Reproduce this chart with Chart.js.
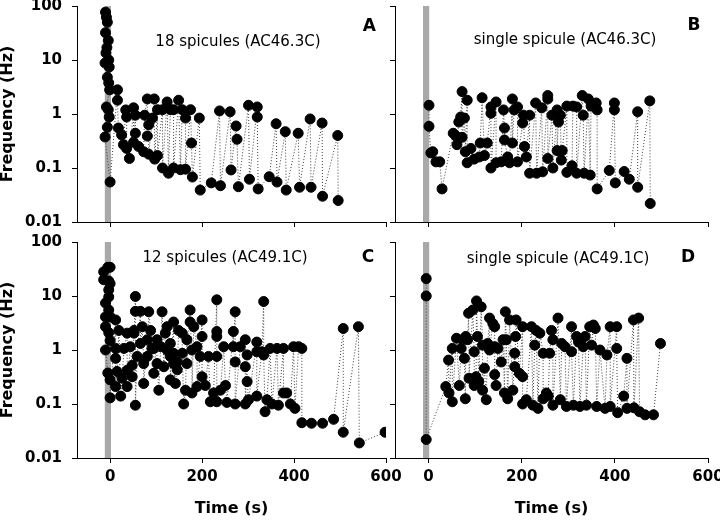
<!DOCTYPE html>
<html>
<head>
<meta charset="utf-8">
<script src="https://cdn.jsdelivr.net/npm/chart.js@4.4.0/dist/chart.umd.min.js"></script>
<style>
  html, body { margin: 0; padding: 0; background: #fff; }
  #wrap { position: relative; width: 720px; height: 520px; overflow: hidden; }
  canvas { position: absolute; }
</style>
</head>
<body>
<div id="wrap">
  <canvas id="panelA" width="410" height="232" style="left:0;top:0"></canvas>
  <canvas id="panelC" width="410" height="288" style="left:0;top:232px"></canvas>
  <canvas id="panelB" width="335" height="232" style="left:385px;top:0"></canvas>
  <canvas id="panelD" width="335" height="288" style="left:385px;top:232px"></canvas>
</div>
<script>
// axis ticks
const xTicks = [0, 200, 400, 600];
const yTicks = [0.01, 0.1, 1, 10, 100];
const yTickLabels = ["0.01", "0.1", "1", "10", "100"];
// stimulation window (s), grey bar
const stimWindow = [-12, 2];

// A: 18 spicules (AC46.3C)
const timeA = [-10, -8, -6, -10, -4, -7, -9, -3, -11, -2, -6, -3, -1, -8, -4, -2, -6, -11, 0,
  16, 16, 18, 25, 29, 34, 36, 36, 42, 51, 51, 55, 55, 62, 73, 75, 81, 81, 84, 84,
  92, 96, 97, 103, 103, 114, 114, 124, 127, 131, 138, 138, 149, 153, 157, 164, 164, 175, 177, 179,
  194, 196, 220, 238, 240, 261, 263, 274, 276, 279, 301, 303, 320, 320, 322, 346, 361, 363, 381, 383,
  409, 412, 435, 437, 461, 462, 495, 496];
const freqA = [77, 62, 50, 32, 23, 17, 13.5, 10, 8.8, 7.4, 4.8, 3.75, 2.8, 1.35, 1.2, 0.88, 0.57, 0.375, 0.055,
  2.8, 1.8, 0.55, 0.41, 0.27, 1.19, 0.88, 0.23, 0.15, 1.3, 0.3, 0.95, 0.44, 0.25, 0.2, 0.95, 1.9, 0.39, 0.63, 0.18,
  0.84, 1.9, 0.146, 1.2, 0.17, 1.2, 0.1, 1.67, 0.08, 1.2, 1.2, 0.1, 1.8, 0.093, 1.2, 0.84, 0.095, 1.2, 0.29, 0.068,
  0.84, 0.039, 0.053, 1.14, 0.047, 1.1, 0.092, 0.6, 0.34, 0.045, 1.45, 0.062, 1.35, 0.88, 0.041, 0.069, 0.66, 0.055, 0.47, 0.039,
  0.44, 0.044, 0.81, 0.044, 0.68, 0.030, 0.4, 0.025];

// B: single spicule (AC46.3C)
const timeB = [1, 1, 5, 9, 16, 24, 29, 53, 59, 61, 65, 69, 72, 72, 77, 79, 83, 83, 91, 98,
  109, 111, 115, 120, 126, 134, 134, 134, 145, 145, 156, 161, 163, 163, 170, 174, 180, 180, 184, 191,
  191, 202, 204, 206, 210, 217, 217, 230, 232, 243, 245, 256, 256, 256, 265, 267, 276, 276, 279, 283,
  285, 287, 297, 297, 308, 310, 318, 318, 330, 332, 334, 343, 347, 349, 360, 362, 362, 388, 399, 399,
  401, 420, 431, 449, 449, 475, 476];
const freqB = [1.45, 0.59, 0.19, 0.2, 0.13, 0.13, 0.041, 0.44, 0.39, 0.27, 0.71, 0.88, 2.6, 0.37, 0.84, 0.2, 1.8, 0.125, 0.23, 0.146,
  0.16, 0.29, 2.0, 0.17, 0.29, 1.35, 1.03, 0.1, 1.67, 0.125, 0.13, 1.19, 0.55, 0.33, 0.16, 0.125, 1.9, 0.29, 1.19, 1.35,
  0.13, 0.68, 0.95, 0.25, 0.16, 0.95, 0.08, 1.6, 0.08, 1.3, 0.085, 2.2, 1.9, 0.15, 0.95, 0.1, 1.19, 0.21, 0.71, 0.95,
  0.14, 0.21, 1.4, 0.083, 0.11, 1.4, 1.35, 0.08, 2.2, 0.95, 0.08, 1.9, 0.074, 1.4, 1.6, 1.19, 0.041, 0.09, 1.6, 1.19,
  0.053, 0.086, 0.062, 1.1, 0.044, 1.75, 0.022];

// C: 12 spicules (AC49.1C)
const timeC = [-14, -5, 0, -14, -3, 0, -3, -3, -10, -3, -10, 0, -10, -3, 0, -10, -5, 0, 0,
  12, 12, 12, 12, 15, 19, 23, 26, 30, 37, 37, 37, 44, 48, 48, 52, 52, 55, 55, 55,
  59, 66, 66, 70, 73, 73, 81, 81, 84, 88, 91, 95, 95, 102, 102, 106, 110, 113, 117, 120,
  124, 124, 131, 131, 131, 138, 138, 138, 142, 146, 146, 149, 157, 157, 160, 164, 167, 167, 174, 174,
  178, 178, 182, 189, 189, 196, 200, 200, 200, 207, 214, 218, 225, 232, 232, 232, 232, 232, 240, 247,
  251, 254, 268, 268, 272, 272, 272, 283, 294, 294, 294, 298, 298, 301, 319, 319, 319, 330, 334, 334,
  337, 341, 348, 352, 363, 366, 377, 377, 384, 392, 399, 402, 410, 417, 417, 438, 462, 486, 507, 507,
  540, 542, 598];
const freqC = [28, 34, 34, 20, 19, 17, 13, 9.6, 7.4, 5.5, 4.1, 4.1, 2.7, 2.1, 1.5, 1.0, 0.375, 0.28, 0.13,
  3.6, 1.07, 0.7, 0.21, 0.4, 2.3, 0.14, 0.3, 1.07, 2.05, 0.42, 0.21, 1.15, 0.52, 0.32, 2.3, 2.05, 9.8, 5.2, 0.095,
  0.76, 5.2, 1.32, 2.7, 0.56, 0.24, 1.55, 0.76, 5.1, 2.3, 1.07, 1.07, 0.37, 1.55, 0.56, 0.18, 1.15, 5.1, 0.49, 2.05,
  2.7, 1.0, 1.32, 0.76, 0.28, 3.3, 0.87, 0.56, 0.24, 0.6, 0.43, 2.3, 2.05, 0.87, 0.10, 0.18, 1.55, 0.56, 5.5, 3.3,
  1.0, 0.16, 2.7, 1.15, 0.21, 0.76, 3.6, 1.78, 0.32, 0.22, 0.76, 0.11, 0.16, 8.5, 2.2, 1.78, 0.76, 0.11, 0.18, 1.15,
  0.22, 0.107, 2.2, 1.15, 5.1, 0.6, 0.1, 1.15, 1.55, 0.49, 0.1, 0.81, 0.26, 0.12, 1.4, 0.93, 0.14, 0.93, 7.9, 0.81,
  0.072, 0.12, 1.07, 0.10, 1.07, 0.095, 1.07, 0.16, 0.16, 0.1, 1.15, 0.083, 1.15, 1.07, 0.045, 0.044, 0.044, 0.052, 2.5, 0.03,
  2.7, 0.019, 0.03];

// D: single spicule (AC49.1C)
const timeD = [-5, -5, -5, 37, 43, 44, 51, 51, 60, 66, 70, 73, 77, 79, 80, 84, 86, 87, 95, 98,
  98, 102, 103, 105, 108, 113, 116, 116, 120, 124, 127, 131, 131, 138, 142, 142, 142, 145, 149, 156,
  160, 163, 165, 167, 170, 174, 181, 185, 185, 187, 188, 195, 202, 202, 202, 210, 221, 224, 228, 231,
  235, 239, 246, 246, 253, 257, 260, 264, 267, 267, 278, 283, 286, 293, 296, 307, 307, 311, 318, 322,
  325, 332, 336, 339, 346, 350, 354, 358, 361, 368, 379, 383, 390, 390, 404, 404, 406, 419, 426, 426,
  440, 441, 451, 453, 465, 483, 498];
const freqD = [21, 10, 0.022, 0.21, 0.65, 0.16, 1.07, 0.11, 1.65, 0.22, 1.07, 1.55, 0.7, 0.125, 1.78, 1.55, 4.8, 0.3, 5.5, 0.93,
  0.22, 0.32, 8.1, 1.78, 0.26, 6.3, 1.23, 0.18, 0.46, 0.12, 1.32, 3.9, 1.0, 3.1, 2.7, 1.15, 0.35, 0.22, 1.07, 0.6,
  1.55, 0.16, 5.1, 1.55, 0.125, 3.6, 0.18, 0.87, 0.49, 1.78, 3.6, 0.37, 2.7, 0.32, 0.10, 0.12, 2.7, 0.095, 1.23, 2.3,
  0.083, 2.05, 0.87, 0.125, 0.16, 0.14, 0.87, 2.3, 1.55, 0.095, 3.9, 0.12, 1.32, 1.15, 0.09, 2.7, 0.93, 0.095, 1.78, 1.4,
  0.09, 1.15, 1.78, 0.095, 2.7, 1.23, 2.9, 2.5, 0.09, 1.0, 0.083, 0.81, 2.7, 0.09, 2.7, 1.07, 0.069, 0.14, 0.7, 0.083,
  3.6, 0.085, 3.9, 0.072, 0.063, 0.063, 1.32];

Chart.defaults.font.family = "'DejaVu Sans', sans-serif";
Chart.defaults.color = "#000";

const FONT_NOTE = "15px 'DejaVu Sans'";
const FONT_LETTER = "bold 17px 'DejaVu Sans'";

// draws the panel captions at data coordinates
function notesPlugin(items) {
  return {
    id: "notes",
    afterDatasetsDraw(chart) {
      const { ctx, scales } = chart;
      ctx.save();
      ctx.fillStyle = "#000";
      ctx.textAlign = "center";
      ctx.textBaseline = "middle";
      items.forEach((it) => {
        ctx.font = it.font;
        ctx.fillText(it.text, scales.x.getPixelForValue(it.x), scales.y.getPixelForValue(it.y));
      });
      ctx.restore();
    },
  };
}

function makePanel(id, times, freqs, opt) {
  const pts = times.map((t, i) => ({ x: t, y: freqs[i] }));
  new Chart(document.getElementById(id), {
    type: "line",
    data: {
      datasets: [
        {
          data: pts,
          borderColor: "#3c3c3c",
          borderWidth: 1,
          borderDash: [1, 2],
          tension: 0,
          fill: false,
          pointRadius: 5,
          pointBackgroundColor: "#000",
          pointBorderColor: "#000",
          pointBorderWidth: 1,
          order: 1,
        },
        {
          data: stimWindow.map((t) => ({ x: t, y: 100 })),
          borderColor: "rgba(0,0,0,0)",
          backgroundColor: "#a9a9a9",
          pointRadius: 0,
          fill: "start",
          order: 2,
        },
      ],
    },
    options: {
      responsive: false,
      animation: false,
      events: [],
      layout: { padding: { top: opt.padTop, right: opt.padRight, left: 0, bottom: 0 } },
      plugins: {
        legend: { display: false },
        tooltip: { enabled: false },
      },
      scales: {
        x: {
          type: "linear",
          min: -72,
          max: 600,
          afterBuildTicks: (s) => { s.ticks = xTicks.map((v) => ({ value: v })); },
          afterFit: (s) => {
            s.height = opt.bottom ? 62 : 10;
            s.paddingLeft = 0; s.paddingRight = 0;
          },
          border: { display: true, color: "#000", width: 1 },
          grid: { drawOnChartArea: false, drawTicks: true, tickLength: 5, color: "#000" },
          ticks: {
            display: opt.bottom,
            padding: 5,
            maxRotation: 0,
            autoSkip: false,
            font: { size: 15, weight: "bold" },
            callback: (v) => String(v),
          },
          title: {
            display: opt.bottom,
            text: "Time (s)",
            font: { size: 16, weight: "bold" },
            padding: { top: 0, bottom: 2 },
          },
        },
        y: {
          type: "logarithmic",
          min: 0.01,
          max: 100,
          afterBuildTicks: (s) => { s.ticks = yTicks.map((v) => ({ value: v })); },
          afterFit: (s) => {
            s.width = opt.left ? 77 : 10;
            s.paddingTop = 0; s.paddingBottom = 0;
          },
          border: { display: true, color: "#000", width: 1 },
          grid: { drawOnChartArea: false, drawTicks: true, tickLength: 5, color: "#000" },
          ticks: {
            display: opt.left,
            padding: 10,
            autoSkip: false,
            font: { size: 15, weight: "bold" },
            callback: (v) => yTickLabels[yTicks.indexOf(v)],
          },
          title: {
            display: opt.left,
            text: "Frequency (Hz)",
            font: { size: 16, weight: "bold" },
            padding: { top: -2, bottom: 0 },
          },
        },
      },
    },
    plugins: [notesPlugin(opt.notes)],
  });
}

makePanel("panelA", timeA, freqA, {
  left: true, bottom: false, padTop: 6, padRight: 24,
  notes: [
    { text: "18 spicules (AC46.3C)", x: 278, y: 21.5, font: FONT_NOTE },
    { text: "A", x: 564, y: 41, font: FONT_LETTER },
  ],
});
makePanel("panelB", timeB, freqB, {
  left: false, bottom: false, padTop: 6, padRight: 12,
  notes: [
    { text: "single spicule (AC46.3C)", x: 293, y: 23.5, font: FONT_NOTE },
    { text: "B", x: 570, y: 42.5, font: FONT_LETTER },
  ],
});
makePanel("panelC", timeC, freqC, {
  left: true, bottom: true, padTop: 10, padRight: 24,
  notes: [
    { text: "12 spicules (AC49.1C)", x: 250, y: 50.6, font: FONT_NOTE },
    { text: "C", x: 561, y: 50.6, font: FONT_LETTER },
  ],
});
makePanel("panelD", timeD, freqD, {
  left: false, bottom: true, padTop: 10, padRight: 12,
  notes: [
    { text: "single spicule (AC49.1C)", x: 278, y: 48.4, font: FONT_NOTE },
    { text: "D", x: 557, y: 50.6, font: FONT_LETTER },
  ],
});
</script>
</body>
</html>
